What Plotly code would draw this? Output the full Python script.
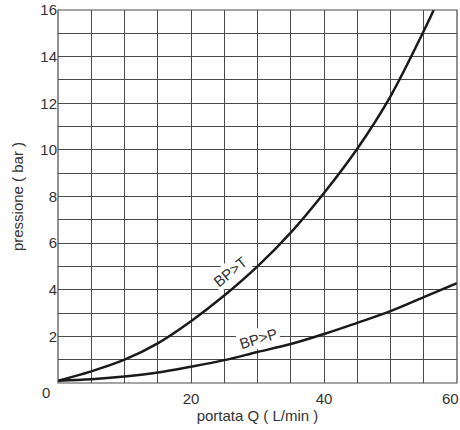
import plotly.graph_objects as go

# BP>T curve (portata L/min, pressione bar)
bpt_q = [0, 5, 10, 15, 20, 25, 30, 35, 40, 45, 50, 55, 56.5]
bpt_p = [0.1, 0.5, 1.0, 1.7, 2.65, 3.75, 5.0, 6.45, 8.15, 10.05, 12.3, 15.1, 16.0]

# BP>P curve
bpp_q = [0, 5, 10, 15, 20, 25, 30, 35, 40, 45, 50, 55, 60]
bpp_p = [0.1, 0.16, 0.28, 0.45, 0.7, 0.98, 1.33, 1.67, 2.1, 2.58, 3.08, 3.68, 4.28]

x_ticks = [20, 40]
y_ticks = [2, 4, 6, 8, 10, 12, 14, 16]

labels = ["BP>T", "BP>P"]
label_pos = [(25.9, 4.8), (30.1, 1.9)]
label_angle = [-39, -17]

font = "Liberation Sans, Arial, sans-serif"
txt = "#333333"
grid = "#4a4a4a"

fig = go.Figure()
for qs, ps in [(bpt_q, bpt_p), (bpp_q, bpp_p)]:
    fig.add_trace(go.Scatter(x=qs, y=ps, mode="lines",
                             line=dict(color="#1a1a1a", width=2.5, shape="spline", smoothing=1.0),
                             showlegend=False, hoverinfo="skip"))

for lab, (lx, ly), ang in zip(labels, label_pos, label_angle):
    fig.add_annotation(x=lx, y=ly, text=lab, showarrow=False, textangle=ang,
                       font=dict(family=font, size=15, color=txt), bgcolor="white", borderpad=1)

# origin and last x tick labels
fig.add_annotation(x=0, y=0, text="0", showarrow=False, xshift=-12, yshift=-9,
                   font=dict(family=font, size=15, color=txt))
fig.add_annotation(x=60, y=0, text="60", showarrow=False, xanchor="right", yanchor="top",
                   xshift=4, yshift=-5, font=dict(family=font, size=15, color=txt))

fig.add_shape(type="rect", xref="paper", yref="paper", x0=0, y0=0, x1=1, y1=1,
              line=dict(color=grid, width=1.2), layer="above")

fig.update_layout(
    width=460, height=430,
    margin=dict(l=58, r=3, t=10, b=47, autoexpand=False),
    paper_bgcolor="white", plot_bgcolor="white",
    font=dict(family=font, size=15, color=txt),
)
fig.update_xaxes(range=[0, 60], tickvals=x_ticks, ticktext=[str(v) for v in x_ticks],
                 showgrid=True, gridcolor=grid, gridwidth=1,
                 showline=False, ticks="", zeroline=False, fixedrange=True,
                 ticklabelstandoff=5,
                 tickfont=dict(size=15, color=txt),
                 title=dict(text="portata Q ( L/min )", font=dict(size=15, color=txt), standoff=2),
                 minor=dict(dtick=5, showgrid=True, gridcolor=grid, gridwidth=1))
fig.update_yaxes(range=[0, 16], tickvals=y_ticks, ticktext=[str(v) for v in y_ticks],
                 showgrid=True, gridcolor=grid, gridwidth=1,
                 showline=False, ticks="", zeroline=False, fixedrange=True,
                 tickfont=dict(size=15, color=txt),
                 title=dict(text="pressione ( bar )", font=dict(size=15, color=txt), standoff=13),
                 minor=dict(dtick=1, showgrid=True, gridcolor=grid, gridwidth=1))

fig.write_html("out.html", config={"displayModeBar": False},
               post_script="document.body.style.margin='0';document.body.style.overflow='hidden';")
